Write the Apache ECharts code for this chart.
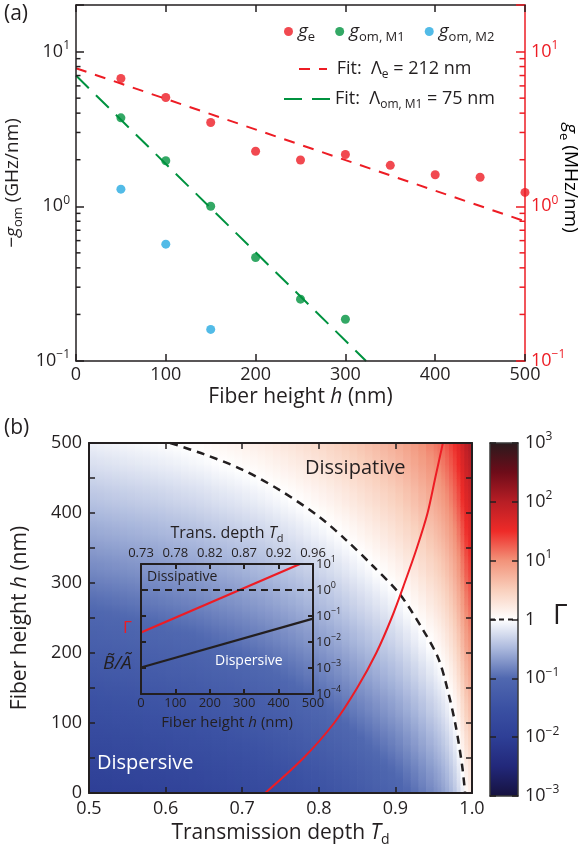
<!DOCTYPE html>
<html><head><meta charset="utf-8">
<script src="https://cdn.jsdelivr.net/npm/echarts@6/dist/echarts.min.js"></script>
<style>html,body{margin:0;padding:0;background:#fff}#c{width:584px;height:861px}</style>
</head><body><div id="c"></div>
<script>
// ---------------- Panel (a) data ----------------
const hE = [50, 100, 150, 200, 250, 300, 350, 400, 450, 500];
const gE = [6.7, 5.05, 3.48, 2.27, 1.99, 2.16, 1.84, 1.60, 1.54, 1.23];
const hM1 = [50, 100, 150, 200, 250, 300];
const gOmM1 = [3.73, 1.97, 1.00, 0.467, 0.251, 0.186];
const hM2 = [50, 100, 150];
const gOmM2 = [1.29, 0.569, 0.160];
const fitEH = [0, 500];
const fitEVal = [7.8, 0.80];
const fitOmH = [0, 323];
const fitOmVal = [7.0, 0.1];
const minorLogTicks = [0.2, 0.3, 0.4, 0.5, 0.6, 0.7, 0.8, 0.9, 2, 3, 4, 5, 6, 7, 8, 9];

// ---------------- Panel (b) data ----------------
// colour map value log10(Gamma) = value read along the bottom edge (per Td node) + rise with height (per h node)
const tdNodes = [0.50,0.51,0.52,0.53,0.54,0.55,0.56,0.57,0.58,0.59,0.60,0.61,0.62,0.63,0.64,0.65,0.66,0.67,0.68,0.69,
                 0.70,0.71,0.72,0.73,0.74,0.75,0.76,0.77,0.78,0.79,0.80,0.81,0.82,0.83,0.84,0.85,0.86,0.87,0.88,0.89,
                 0.90,0.91,0.92,0.93,0.94,0.95,0.955,0.96,0.965,0.97,0.975,0.98,0.985,0.99,0.995,1.00];
const logGammaBottom = [-2.01,-2.00,-1.99,-1.98,-1.97,-1.96,-1.95,-1.94,-1.93,-1.92,-1.905,-1.895,-1.88,-1.87,-1.855,-1.84,-1.82,-1.80,-1.785,-1.77,
                        -1.75,-1.73,-1.71,-1.69,-1.665,-1.64,-1.615,-1.59,-1.56,-1.53,-1.50,-1.47,-1.435,-1.40,-1.36,-1.32,-1.28,-1.24,-1.195,-1.15,
                        -1.11,-1.05,-0.99,-0.925,-0.855,-0.78,-0.74,-0.69,-0.62,-0.55,-0.46,-0.35,-0.21,-0.02,0.12,0.20];
const hNodes = [0,10,20,30,40,50,60,70,80,90,100,110,120,130,140,150,160,170,180,190,200,210,220,230,240,250,
                260,270,280,290,300,310,320,330,340,350,360,370,380,390,400,410,420,430,440,450,460,470,480,490,500];
const logGammaRise = [0,0.04,0.08,0.11,0.15,0.19,0.23,0.27,0.30,0.34,0.38,0.42,0.46,0.49,0.53,0.57,0.61,0.65,0.68,0.72,0.76,0.80,0.84,0.87,0.91,0.95,
                      0.99,1.03,1.06,1.10,1.14,1.18,1.22,1.25,1.29,1.33,1.37,1.41,1.44,1.48,1.52,1.56,1.60,1.63,1.67,1.71,1.75,1.79,1.82,1.86,1.90];
// Gamma = 1 boundary (dashed)
const boundaryTd = [0.606,0.65,0.70,0.75,0.80,0.836,0.87,0.905,0.935,0.955,0.965,0.978,0.987,0.991];
const boundaryH  = [500,484,462,432,395,361,325,285,235,195,161,100,40,0];
// experimental path (red)
const pathTd = [0.73,0.78,0.82,0.85,0.875,0.895,0.912,0.928,0.942,0.952,0.962];
const pathH  = [0,50,100,150,200,250,300,350,400,450,500];
// inset
const insetTdLabels = ['0.73','0.78','0.82','0.87','0.92','0.96'];
const insetGammaH = [0, 462];
const insetGammaVal = [0.0234, 10];
const insetBAH = [0, 500];
const insetBAVal = [0.00105, 0.079];
const insetThresholdH = [0, 500];
const insetThresholdVal = [1, 1];
// colour bar
const cbarRange = [1e-3, 1e3];
const cbarThreshold = [1, 1];
const cmapColors = ['#16123f','#22287a','#2e3f96','#3b51a3','#5068b0','#a9b7dc','#ffffff',
                    '#f9d0bd','#f2937a','#ee2b28','#b81e25','#6e0c19','#2a1a1d'];

// ---------------- helpers ----------------
const FONT = 'Open Sans';
const INK = '#231f20';
const RED = '#ed1c24';
const GREEN = '#00923f';
const BLUE = '#27aae1';
function richSet(size, color) {
  return {
    t: {fontFamily: FONT, fontSize: size, color: color, lineHeight: size + 6},
    i: {fontFamily: FONT, fontSize: size, color: color, fontStyle: 'italic', lineHeight: size + 6},
    sub: {fontFamily: FONT, fontSize: Math.round(size * 0.68), color: color, lineHeight: Math.round(size * 0.68), verticalAlign: 'bottom'},
    sup: {fontFamily: FONT, fontSize: Math.round(size * 0.68), color: color, lineHeight: Math.round(size * 0.68), verticalAlign: 'top'}
  };
}
function powLabel(v, oneAsOne) {
  const l = Math.log10(v);
  const e = Math.round(l);
  if (Math.abs(l - e) > 1e-6) return '';
  if (oneAsOne && e === 0) return '{t|1}';
  return '{t|10}{sup|' + (e < 0 ? '\u2212' + (-e) : e) + '}';
}
const mapColor = v => echarts.color.lerp(Math.max(0, Math.min(1, (v + 3) / 6)), cmapColors);
const heatCells = [];
for (let i = 0; i < tdNodes.length - 1; i++) {
  const gc = (logGammaBottom[i] + logGammaBottom[i + 1]) / 2;
  for (let j = 0; j < hNodes.length - 1; j++) {
    heatCells.push([tdNodes[i], tdNodes[i + 1], hNodes[j], hNodes[j + 1], gc + logGammaRise[j], gc + logGammaRise[j + 1]]);
  }
}
const zip = (a, b) => a.map((v, k) => [v, b[k]]);

const tickA = (len, color, w) => ({show: true, inside: true, length: len, lineStyle: {color: color, width: w}});
const lineA = (color, w) => ({show: true, onZero: false, lineStyle: {color: color, width: w}});

const chart = echarts.init(document.getElementById('c'), null, {renderer: 'canvas'});
const option = {
  animation: false,
  backgroundColor: '#fff',
  textStyle: {fontFamily: FONT},
  grid: [
    {left: 76, top: 5, width: 449, height: 356, outerBoundsMode: 'none'},
    {left: 89, top: 443, width: 383, height: 350, outerBoundsMode: 'none'},
    {left: 141, top: 564, width: 172, height: 130, outerBoundsMode: 'none'},
    {left: 490, top: 443, width: 28, height: 353, outerBoundsMode: 'none'}
  ],
  xAxis: [
    {gridIndex: 0, type: 'value', min: 0, max: 500, interval: 100, position: 'bottom', z: 10,
     axisLine: lineA(INK, 1.5), axisTick: tickA(7, INK, 1.5), splitLine: {show: false},
     axisLabel: {color: INK, fontSize: 18, fontFamily: FONT, margin: 5},
     name: '{t|Fiber height }{i|h}{t| (nm)}', nameLocation: 'middle', nameGap: 23,
     nameTextStyle: {rich: richSet(21, INK)}},
    {gridIndex: 0, type: 'value', min: 0, max: 500, interval: 100, position: 'top', z: 10,
     axisLine: lineA(INK, 1.5), axisTick: tickA(7, INK, 1.5), splitLine: {show: false}, axisLabel: {show: false}},
    {gridIndex: 1, type: 'value', min: 0.5, max: 1.0, interval: 0.1, position: 'bottom', z: 10,
     axisLine: lineA(INK, 2), axisTick: tickA(6, INK, 1.5), splitLine: {show: false},
     axisLabel: {color: INK, fontSize: 18, fontFamily: FONT, margin: 7, formatter: v => v.toFixed(1)},
     name: '{t|Transmission depth }{i|T}{sub|d}', nameLocation: 'middle', nameGap: 27,
     nameTextStyle: {rich: richSet(21, INK)}},
    {gridIndex: 1, type: 'value', min: 0.5, max: 1.0, interval: 0.1, position: 'top', z: 10,
     axisLine: lineA(INK, 2), axisTick: tickA(6, INK, 1.5), splitLine: {show: false}, axisLabel: {show: false}},
    {gridIndex: 2, type: 'value', min: 0, max: 500, interval: 100, position: 'bottom', z: 10,
     axisLine: lineA(INK, 2), axisTick: tickA(5, INK, 2), splitLine: {show: false},
     axisLabel: {color: INK, fontSize: 13, fontFamily: FONT, margin: 3},
     name: '{t|Fiber height }{i|h}{t| (nm)}', nameLocation: 'middle', nameGap: 18,
     nameTextStyle: {rich: richSet(15, INK)}},
    {gridIndex: 2, type: 'value', min: 0, max: 500, interval: 100, position: 'top', z: 10,
     axisLine: lineA(INK, 2), axisTick: tickA(5, INK, 2), splitLine: {show: false},
     axisLabel: {color: INK, fontSize: 13, fontFamily: FONT, margin: 4, formatter: v => insetTdLabels[Math.round(v / 100)]},
     name: '{t|Trans. depth }{i|T}{sub|d}', nameLocation: 'middle', nameGap: 20,
     nameTextStyle: {rich: richSet(16, INK)}},
    {gridIndex: 3, type: 'value', min: 0, max: 1, position: 'bottom', z: 10,
     axisLine: lineA('#3a3a3a', 1.5), axisTick: {show: false}, splitLine: {show: false}, axisLabel: {show: false}},
    {gridIndex: 3, type: 'value', min: 0, max: 1, position: 'top', z: 10,
     axisLine: lineA('#3a3a3a', 1.5), axisTick: {show: false}, splitLine: {show: false}, axisLabel: {show: false}}
  ],
  yAxis: [
    {gridIndex: 0, type: 'log', logBase: 10, min: 0.1, max: 20, position: 'left', z: 10,
     axisLine: lineA(INK, 1.5), axisTick: tickA(8, INK, 1.5), splitLine: {show: false},
     axisLabel: {margin: 6, formatter: v => powLabel(v, false), rich: richSet(18, INK)},
     name: '{t|\u2212}{i|g}{sub|om}{t| (GHz/nm)}', nameLocation: 'middle', nameGap: 41,
     nameTextStyle: {rich: richSet(19, INK)}},
    {gridIndex: 0, type: 'log', logBase: 10, min: 0.1, max: 20, position: 'right', z: 10,
     axisLine: lineA(RED, 1.5), axisTick: tickA(9, RED, 1.5), splitLine: {show: false},
     axisLabel: {margin: 6, formatter: v => powLabel(v, false), rich: richSet(18, RED)}},
    {gridIndex: 1, type: 'value', min: 0, max: 500, interval: 100, position: 'left', z: 10,
     axisLine: lineA(INK, 2), axisTick: tickA(6, INK, 1.5), minorTick: {show: true, splitNumber: 2, length: 6, lineStyle: {color: INK, width: 1.5}},
     splitLine: {show: false}, minorSplitLine: {show: false},
     axisLabel: {color: INK, fontSize: 18, fontFamily: FONT, margin: 7},
     name: '{t|Fiber height }{i|h}{t| (nm)}', nameLocation: 'middle', nameGap: 55,
     nameTextStyle: {rich: richSet(21, INK)}},
    {gridIndex: 1, type: 'value', min: 0, max: 500, interval: 100, position: 'right', z: 10,
     axisLine: lineA(INK, 2), axisTick: tickA(6, INK, 1.5), minorTick: {show: true, splitNumber: 2, length: 6, lineStyle: {color: INK, width: 1.5}},
     splitLine: {show: false}, minorSplitLine: {show: false}, axisLabel: {show: false}},
    {gridIndex: 2, type: 'log', logBase: 10, min: 1e-4, max: 10, position: 'left', z: 10,
     axisLine: lineA(INK, 2), axisTick: tickA(5, INK, 2), splitLine: {show: false}, axisLabel: {show: false}},
    {gridIndex: 2, type: 'log', logBase: 10, min: 1e-4, max: 10, position: 'right', z: 10,
     axisLine: lineA(INK, 2), axisTick: tickA(5, INK, 2), splitLine: {show: false},
     axisLabel: {margin: 3, formatter: v => powLabel(v, false), rich: richSet(13, INK)}},
    {gridIndex: 3, type: 'log', logBase: 10, min: 1e-3, max: 1e3, position: 'left', z: 10,
     axisLine: lineA('#3a3a3a', 1.5), axisTick: tickA(6, '#231f20', 1.5), splitLine: {show: false}, axisLabel: {show: false}},
    {gridIndex: 3, type: 'log', logBase: 10, min: 1e-3, max: 1e3, position: 'right', z: 10,
     axisLine: lineA('#3a3a3a', 1.5), axisTick: tickA(6, '#231f20', 1.5), splitLine: {show: false},
     axisLabel: {margin: 7, formatter: v => powLabel(v, true), rich: richSet(18, INK)}}
  ],
  legend: [
    {left: 284, top: 22, orient: 'horizontal', itemGap: 20, itemWidth: 9, itemHeight: 9, padding: 0,
     data: ['ge', 'gomM1', 'gomM2'],
     formatter: n => ({ge: '{i|g}{sub|e}', gomM1: '{i|g}{sub|om, M1}', gomM2: '{i|g}{sub|om, M2}'})[n],
     textStyle: {rich: richSet(19, INK)}},
    {left: 298, top: 60, itemWidth: 28, itemHeight: 10, padding: 0, data: ['fitE'], itemStyle: {opacity: 0},
     formatter: () => '{t| Fit:  Λ}{sub|e}{t| = 212 nm}', textStyle: {rich: richSet(18, INK)}},
    {left: 283, top: 90, itemWidth: 46, itemHeight: 10, padding: 0, data: ['fitOm'], itemStyle: {opacity: 0},
     formatter: () => '{t|Fit:  Λ}{sub|om, M1}{t| = 75 nm}', textStyle: {rich: richSet(18, INK)}}
  ],
  series: [
    {type: 'custom', name: 'heat', xAxisIndex: 2, yAxisIndex: 2, data: heatCells, clip: true, silent: true, z: 1,
     encode: {x: [0, 1], y: [2, 3]},
     renderItem: function (params, api) {
       const p1 = api.coord([api.value(0), api.value(3)]);
       const p2 = api.coord([api.value(1), api.value(2)]);
       const fill = new echarts.graphic.LinearGradient(0, 1, 0, 0, [
         {offset: 0, color: mapColor(api.value(4))}, {offset: 1, color: mapColor(api.value(5))}]);
       return {type: 'rect', shape: {x: p1[0], y: p1[1], width: p2[0] - p1[0] + 0.8, height: p2[1] - p1[1] + 0.8},
               style: {fill: fill}};
     }},
    {type: 'line', name: 'boundary', xAxisIndex: 2, yAxisIndex: 2, data: zip(boundaryTd, boundaryH), smooth: 0.3,
     symbol: 'none', z: 5, lineStyle: {color: INK, width: 2.5, type: [8, 6]}},
    {type: 'line', name: 'path', xAxisIndex: 2, yAxisIndex: 2, data: zip(pathTd, pathH), smooth: 0.3,
     symbol: 'none', z: 5, lineStyle: {color: RED, width: 2}},
    {type: 'line', name: 'insetGamma', xAxisIndex: 4, yAxisIndex: 5, data: zip(insetGammaH, insetGammaVal),
     symbol: 'none', z: 6, lineStyle: {color: RED, width: 2.2}},
    {type: 'line', name: 'insetBA', xAxisIndex: 4, yAxisIndex: 5, data: zip(insetBAH, insetBAVal),
     symbol: 'none', z: 6, lineStyle: {color: INK, width: 2.2}},
    {type: 'line', name: 'insetThr', xAxisIndex: 4, yAxisIndex: 5, data: zip(insetThresholdH, insetThresholdVal),
     symbol: 'none', z: 6, lineStyle: {color: INK, width: 2, type: [7, 5]}},
    {type: 'custom', name: 'cbar', xAxisIndex: 6, yAxisIndex: 7, data: [[0, 1, cbarRange[0], cbarRange[1]]], silent: true, z: 1,
     encode: {x: [0, 1], y: [2, 3]},
     renderItem: function (params, api) {
       const p1 = api.coord([api.value(0), api.value(3)]);
       const p2 = api.coord([api.value(1), api.value(2)]);
       const stops = cmapColors.map((c, k) => ({offset: k / (cmapColors.length - 1), color: c}));
       return {type: 'rect', shape: {x: p1[0], y: p1[1], width: p2[0] - p1[0], height: p2[1] - p1[1]},
               style: {fill: new echarts.graphic.LinearGradient(0, 1, 0, 0, stops)}};
     }},
    {type: 'line', name: 'cbarThr', xAxisIndex: 6, yAxisIndex: 7, data: zip([0, 1], cbarThreshold),
     symbol: 'none', z: 6, lineStyle: {color: INK, width: 2, type: [5, 4]}},
    {type: 'scatter', name: 'ge', xAxisIndex: 0, yAxisIndex: 1, data: zip(hE, gE), symbolSize: 9,
     itemStyle: {color: RED}, z: 4, clip: false},
    {type: 'scatter', name: 'gomM1', xAxisIndex: 0, yAxisIndex: 0, data: zip(hM1, gOmM1), symbolSize: 9,
     itemStyle: {color: GREEN}, z: 4},
    {type: 'scatter', name: 'gomM2', xAxisIndex: 0, yAxisIndex: 0, data: zip(hM2, gOmM2), symbolSize: 9,
     itemStyle: {color: BLUE}, z: 4},
    {type: 'line', name: 'fitE', xAxisIndex: 0, yAxisIndex: 1, data: zip(fitEH, fitEVal), symbol: 'none',
     itemStyle: {color: RED}, lineStyle: {color: RED, width: 2, type: [11, 9]}, z: 3},
    {type: 'line', name: 'fitOm', xAxisIndex: 0, yAxisIndex: 0, data: zip(fitOmH, fitOmVal), symbol: 'none',
     itemStyle: {color: GREEN}, lineStyle: {color: GREEN, width: 2, type: [18, 10]}, z: 3},
    {type: 'custom', name: 'minorTicks', xAxisIndex: 0, yAxisIndex: 0, data: minorLogTicks.map(v => [v]), silent: true, z: 10,
     encode: {y: 0},
     renderItem: function (params, api) {
       const v = api.value(0);
       const l = api.coord([0, v]);
       const r = api.coord([500, v]);
       return {type: 'group', children: [
         {type: 'line', shape: {x1: l[0], y1: l[1], x2: l[0] + 4.5, y2: l[1]}, style: {stroke: INK, lineWidth: 1.5}},
         {type: 'line', shape: {x1: r[0] - 5.5, y1: r[1], x2: r[0], y2: r[1]}, style: {stroke: RED, lineWidth: 1.5}}
       ]};
     }}
  ],
  graphic: [
    {type: 'text', left: 4, top: 4, style: {text: '(a)', font: '21px "Open Sans"', fill: INK}},
    {type: 'text', left: 4, top: 418, style: {text: '(b)', font: '21px "Open Sans"', fill: INK}},
    {type: 'text', x: 570, y: 178, rotation: -Math.PI / 2, z: 20,
     style: {text: '{i|g}{sub|e}{t| (MHz/nm)}', rich: richSet(19, RED), align: 'center', verticalAlign: 'middle'}},
    {type: 'text', left: 305, top: 458, z: 20, style: {text: 'Dissipative', font: '20px "Open Sans"', fill: INK}},
    {type: 'text', left: 97, top: 753, z: 20, style: {text: 'Dispersive', font: '20px "Open Sans"', fill: '#fff'}},
    {type: 'text', left: 147, top: 570, z: 20, style: {text: 'Dissipative', font: '14px "Open Sans"', fill: INK}},
    {type: 'text', left: 215, top: 654, z: 20, style: {text: 'Dispersive', font: '14px "Open Sans"', fill: '#fff'}},
    {type: 'text', left: 123, top: 620, z: 20, style: {text: '\u0393', font: '17px "Open Sans"', fill: RED}},
    {type: 'text', left: 103, top: 654, z: 20, style: {text: 'B\u0303/A\u0303', font: 'italic 19px "Open Sans"', fill: INK}},
    {type: 'text', left: 553, top: 602, z: 20, style: {text: '\u0393', font: '28px "Open Sans"', fill: INK}}
  ]
};
chart.setOption(option);
</script>
</body></html>
